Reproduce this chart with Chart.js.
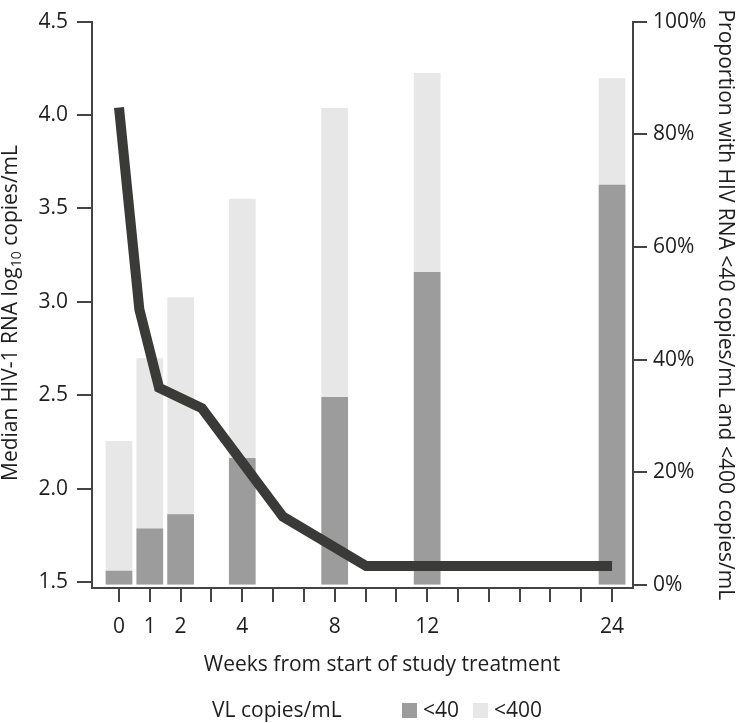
<!DOCTYPE html>
<html>
<head>
<meta charset="utf-8">
<script src="https://cdn.jsdelivr.net/npm/chart.js@4.4.1/dist/chart.umd.min.js"></script>
<style>
  html, body { margin: 0; padding: 0; background: #ffffff; }
  #wrap { width: 745px; height: 723px; }
</style>
</head>
<body>
<div id="wrap"><canvas id="vlchart" width="745" height="723"></canvas></div>
<script>
// tick labels on the week axis (one slot per tick mark)
var tickLabels = ['0', '1', '2', '', '4', '', '', '8', '', '', '12', '', '', '', '', '', '24'];

// visits with bars
var weeks = [0, 1, 2, 4, 8, 12, 24];
var under40 = [2.5, 10.0, 12.5, 22.5, 33.3, 55.5, 71.0];
var under400 = [25.5, 40.2, 51.0, 68.5, 84.6, 90.8, 89.9];

// median viral load line (positions in tick slots)
var medianSlots = [0, 0.66, 1.3, 2.69, 5.32, 8.02, 16];
var medianLog = [4.04, 2.96, 2.54, 2.43, 1.85, 1.586, 1.586];

var leftTicks = [1.5, 2.0, 2.5, 3.0, 3.5, 4.0, 4.5];
var rightTicks = [0, 20, 40, 60, 80, 100];

var xTitle = 'Weeks from start of study treatment';
var yTitleParts = ['Median HIV-1 RNA log', '10', ' copies/mL'];
var y1Title = 'Proportion with HIV RNA <40 copies/mL and <400 copies/mL';
var legendTitle = 'VL copies/mL';

var fontFamily = '"Open Sans", "Noto Sans", sans-serif';
var textColor = '#1e1e1e';
var axisColor = '#444444';
var darkGrey = '#9c9c9c';
var lightGrey = '#e7e7e7';
var lineColor = '#3a3a38';

function slotOf(week) {
    return tickLabels.indexOf(String(week));
}

var barSlots = weeks.map(slotOf);

function pts(xs, ys) {
    return xs.map(function(x, i) { return {x: x, y: ys[i]}; });
}

// x title, left title (with a real subscript) and the legend row
var textPlugin = {
    id: 'vlText',
    afterDraw: function(chart) {
        var ctx = chart.ctx;
        var ds = chart.data.datasets;
        var big = '21px ' + fontFamily;
        var small = '14px ' + fontFamily;
        ctx.save();
        ctx.fillStyle = textColor;
        ctx.textBaseline = 'middle';

        // x axis title
        ctx.font = big;
        ctx.textAlign = 'center';
        ctx.fillText(xTitle, 382, 665);

        // left axis title, rotated
        ctx.textAlign = 'left';
        var fonts = [big, small, big];
        var widths = yTitleParts.map(function(t, i) {
            ctx.font = fonts[i];
            return ctx.measureText(t).width;
        });
        var total = widths.reduce(function(a, b) { return a + b; }, 0);
        ctx.save();
        ctx.translate(11, 313);
        ctx.rotate(-Math.PI / 2);
        var cx = -total / 2;
        yTitleParts.forEach(function(t, i) {
            ctx.font = fonts[i];
            ctx.fillText(t, cx, i === 1 ? 6 : 0);
            cx += widths[i];
        });
        ctx.restore();

        // legend
        ctx.font = big;
        var y = 711;
        ctx.fillText(legendTitle, 212, y);
        var x = 402;
        [ds[1], ds[2]].forEach(function(d) {
            ctx.fillStyle = d.backgroundColor;
            ctx.fillRect(x, y - 8, 15, 15);
            ctx.fillStyle = textColor;
            ctx.fillText(d.label, x + 21, y);
            x += 21 + ctx.measureText(d.label).width + 14;
        });
        ctx.restore();
    }
};

var chart = new Chart(document.getElementById('vlchart'), {
    type: 'bar',
    data: {
        datasets: [
            {
                type: 'line',
                label: 'Median HIV-1 RNA',
                data: pts(medianSlots, medianLog),
                yAxisID: 'y',
                borderColor: lineColor,
                borderWidth: 10,
                borderCapStyle: 'butt',
                borderJoinStyle: 'miter',
                pointRadius: 0,
                tension: 0,
                fill: false,
                order: 0
            },
            {
                label: '<40',
                data: pts(barSlots, under40),
                yAxisID: 'y1',
                backgroundColor: darkGrey,
                barThickness: 26,
                grouped: false,
                order: 1
            },
            {
                label: '<400',
                data: pts(barSlots, under400),
                yAxisID: 'y1',
                backgroundColor: lightGrey,
                barThickness: 26,
                grouped: false,
                order: 2
            }
        ]
    },
    options: {
        responsive: false,
        animation: false,
        layout: { padding: { top: 13, left: 0, right: 0, bottom: 0 } },
        plugins: {
            legend: { display: false },
            tooltip: { enabled: false }
        },
        scales: {
            x: {
                type: 'linear',
                position: 'bottom',
                offset: false,
                min: -0.876,
                max: 16.68,
                afterBuildTicks: function(scale) {
                    scale.ticks = tickLabels.map(function(t, i) { return {value: i}; });
                },
                afterFit: function(scale) { scale.height = 135; },
                ticks: {
                    autoSkip: false,
                    maxRotation: 0,
                    padding: 12,
                    color: textColor,
                    font: { family: fontFamily, size: 21 },
                    callback: function(v) { return tickLabels[v]; }
                },
                grid: {
                    offset: false,
                    drawOnChartArea: false,
                    color: axisColor,
                    lineWidth: 2,
                    tickLength: 14
                },
                border: { color: axisColor, width: 2 }
            },
            y: {
                type: 'linear',
                position: 'left',
                min: 1.468,
                max: 4.5,
                afterBuildTicks: function(scale) {
                    scale.ticks = leftTicks.map(function(v) { return {value: v}; });
                },
                afterFit: function(scale) { scale.width = 92; },
                ticks: {
                    padding: 9,
                    color: textColor,
                    font: { family: fontFamily, size: 21 },
                    callback: function(v) { return v.toFixed(1); }
                },
                grid: {
                    drawOnChartArea: false,
                    color: axisColor,
                    lineWidth: 2,
                    tickLength: 15
                },
                border: { color: axisColor, width: 2 }
            },
            y1: {
                type: 'linear',
                position: 'right',
                min: -0.52,
                max: 100,
                afterBuildTicks: function(scale) {
                    scale.ticks = rightTicks.map(function(v) { return {value: v}; });
                },
                afterFit: function(scale) { scale.width = 112; },
                ticks: {
                    padding: 6,
                    color: textColor,
                    font: { family: fontFamily, size: 21 },
                    callback: function(v) { return v + '%'; }
                },
                grid: {
                    drawOnChartArea: false,
                    color: axisColor,
                    lineWidth: 2,
                    tickLength: 14
                },
                border: { color: axisColor, width: 2 },
                title: {
                    display: true,
                    text: y1Title,
                    color: textColor,
                    font: { family: fontFamily, size: 21 },
                    padding: { top: 7, bottom: 0 }
                }
            }
        }
    },
    plugins: [textPlugin]
});
</script>
</body>
</html>
